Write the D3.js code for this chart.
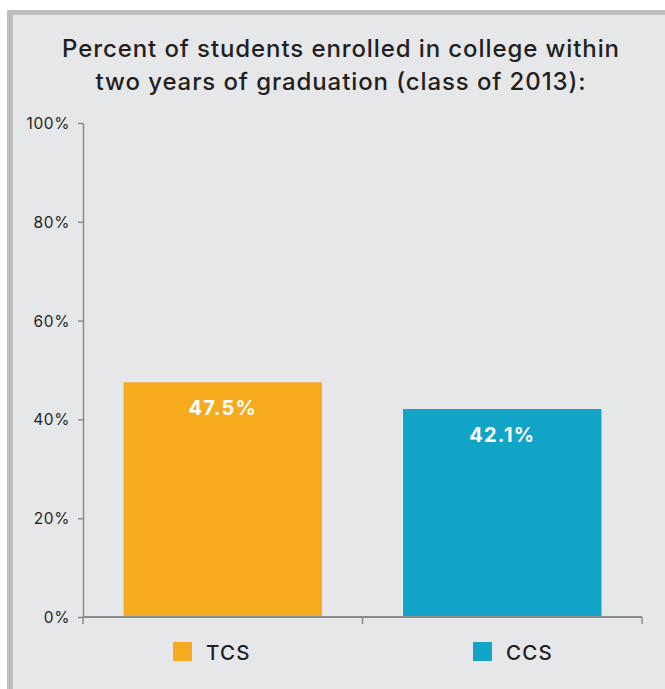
<!DOCTYPE html>
<html>
<head>
<meta charset="utf-8">
<script src="https://cdn.jsdelivr.net/npm/d3@7"></script>
<style>
  html, body { margin: 0; padding: 0; background: #ffffff; }
  svg { display: block; }
</style>
</head>
<body>
<script>
const categories = ["TCS", "CCS"];
const values = [47.5, 42.1];
const valueLabels = ["47.5%", "42.1%"];
const yTicks = [0, 20, 40, 60, 80, 100];
const titleLines = ["Percent of students enrolled in college within", "two years of graduation (class of 2013):"];
const colors = ["#f6aa1e", "#12a4c6"];

const W = 665, H = 689;
const FONT = "Inter, 'Noto Sans', sans-serif";
const svg = d3.select("body").append("svg").attr("width", W).attr("height", H);

// panel background and borders
svg.append("rect").attr("x", 0).attr("y", 0).attr("width", W).attr("height", H).attr("fill", "#ffffff");
svg.append("rect").attr("x", 7).attr("y", 10).attr("width", W - 7).attr("height", H - 10).attr("fill", "#bcbec0");
svg.append("rect").attr("x", 13).attr("y", 15).attr("width", W - 13).attr("height", H - 15).attr("fill", "#e6e7e9");

// title
svg.append("text")
  .attr("x", 341).attr("y", 57)
  .attr("text-anchor", "middle")
  .attr("font-family", FONT).attr("font-size", 24).attr("font-weight", 500)
  .attr("letter-spacing", 0.9)
  .attr("fill", "#231f20")
  .selectAll("tspan").data(titleLines).join("tspan")
  .attr("x", 341).attr("dy", (d, i) => i === 0 ? 0 : 33)
  .text(d => d);

const x0 = 83, x1 = 642, yTop = 123, yBot = 617;
const x = d3.scaleBand().domain(categories).range([x0, x1]).paddingInner(0.29).paddingOuter(0.145);
const xAxisScale = d3.scaleBand().domain(categories).range([x0, x1]);
const y = d3.scaleLinear().domain([0, 100]).range([yBot, yTop]);

// bars
svg.selectAll("rect.bar").data(categories).join("rect")
  .attr("class", "bar")
  .attr("x", d => x(d))
  .attr("width", x.bandwidth())
  .attr("y", (d, i) => y(values[i]))
  .attr("height", (d, i) => y(0) - y(values[i]))
  .attr("fill", (d, i) => colors[i]);

// bar value labels
svg.selectAll("text.val").data(categories).join("text")
  .attr("class", "val")
  .attr("x", d => x(d) + x.bandwidth() / 2)
  .attr("y", (d, i) => y(values[i]) + 33)
  .attr("text-anchor", "middle")
  .attr("font-family", FONT).attr("font-size", 20).attr("font-weight", 700)
  .attr("letter-spacing", 1.2)
  .attr("fill", "#ffffff")
  .text((d, i) => valueLabels[i]);

// y axis
const yAxis = svg.append("g").attr("transform", `translate(${x0},0)`)
  .call(d3.axisLeft(y).tickValues(yTicks).tickFormat(d => d + "%").tickSize(5).tickSizeOuter(0));
yAxis.select(".domain").attr("stroke", "#8a8b8d").attr("stroke-width", 1.5);
yAxis.selectAll(".tick line").attr("stroke", "#8a8b8d").attr("stroke-width", 1.5);
yAxis.selectAll(".tick text")
  .attr("font-family", FONT).attr("font-size", 15.5).attr("letter-spacing", 0.6)
  .attr("fill", "#231f20").attr("x", -13).attr("dy", "0.35em");

// x axis (ticks at band boundaries)
const boundaries = categories.map(c => xAxisScale(c)).concat([x1]);
const xAxisG = svg.append("g").attr("transform", `translate(0,${yBot})`);
xAxisG.append("line").attr("x1", x0).attr("x2", x1).attr("y1", 0).attr("y2", 0)
  .attr("stroke", "#8a8b8d").attr("stroke-width", 2);
xAxisG.selectAll("line.tk").data(boundaries).join("line").attr("class", "tk")
  .attr("x1", d => d).attr("x2", d => d).attr("y1", 0).attr("y2", 7)
  .attr("stroke", "#8a8b8d").attr("stroke-width", 1.5);

// legend
const lx = d3.scalePoint().domain(categories).range([173, 473]);
const leg = svg.selectAll("g.leg").data(categories).join("g").attr("class", "leg")
  .attr("transform", d => `translate(${lx(d)},642)`);
leg.append("rect").attr("width", 19).attr("height", 19).attr("fill", (d, i) => colors[i]);
leg.append("text").attr("x", 33).attr("y", 18)
  .attr("font-family", FONT).attr("font-size", 20.5).attr("font-weight", 500)
  .attr("letter-spacing", 1.2)
  .attr("fill", "#231f20").text(d => d);
</script>
</body>
</html>
